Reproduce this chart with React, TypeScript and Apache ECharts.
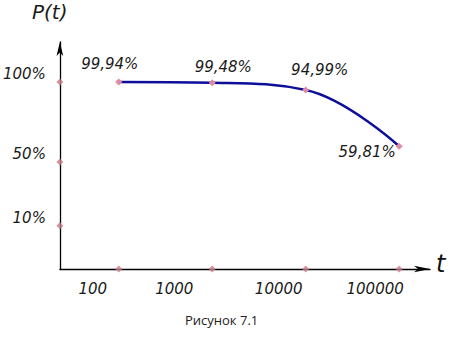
import React, { useEffect, useRef } from "react";
import * as echarts from "echarts";

const categories = ["100", "1000", "10000", "100000"];
const reliability = [99.94, 99.48, 94.99, 59.81];
const yTickValues = [100, 50, 10];
const yTickLabels = ["100%", "50%", "10%"];

const Y_MIN = -17;
const Y_MAX = 125;
const X_MIN = -0.63;
const X_MAX = 3.33;

export default function App() {
  const ref = useRef<HTMLDivElement>(null);
  useEffect(() => {
    if (!ref.current) return;
    const chart = echarts.init(ref.current, null, { renderer: "svg" });
    const gost = "'DejaVu Sans', 'Liberation Sans', sans-serif";
    const labelOffsets = [
      [-9, -2],
      [11, 0],
      [14, -4],
      [-32, 22],
    ];
    const xLabelPad = [52, 76, 54, 48];
    const markerColor = "#c97c8c";
    const textStyle = {
      fontFamily: gost,
      fontStyle: "italic",
      fontWeight: 200,
      fontSize: 15,
      color: "#1a1a1a",
    };
    const rich: Record<string, any> = {};
    xLabelPad.forEach((p, i) => {
      rich["c" + i] = { ...textStyle, padding: [0, p, 0, 0] };
    });
    chart.setOption({
      animation: false,
      backgroundColor: "#ffffff",
      grid: { left: 59, right: 40, top: 42, bottom: 75 },
      xAxis: {
        type: "value",
        min: X_MIN,
        max: X_MAX,
        splitLine: { show: false },
        axisTick: { show: false },
        axisLine: {
          show: true,
          onZero: false,
          symbol: ["none", "arrow"],
          symbolSize: [5, 16],
          lineStyle: { color: "#000", width: 1.3 },
        },
        axisLabel: {
          customValues: categories.map((_, i) => i),
          formatter: (v: number) => {
            const i = Math.round(v);
            return categories[i] ? `{c${i}|${categories[i]}}` : "";
          },
          rich,
          ...textStyle,
          margin: 12,
        },
      },
      yAxis: {
        type: "value",
        min: Y_MIN,
        max: Y_MAX,
        splitLine: { show: false },
        axisTick: { show: false },
        axisLine: {
          show: true,
          onZero: false,
          symbol: ["none", "arrow"],
          symbolSize: [5, 14],
          lineStyle: { color: "#000", width: 1.3 },
        },
        axisLabel: {
          customValues: yTickValues,
          formatter: (v: number) => yTickLabels[yTickValues.indexOf(v)] ?? "",
          ...textStyle,
          margin: 14,
          verticalAlign: "bottom",
        },
      },
      series: [
        {
          type: "line",
          data: reliability.map((v, i) => [i, v]),
          smooth: 0.4,
          symbol: "diamond",
          symbolSize: 7,
          itemStyle: { color: "#e08aa4" },
          lineStyle: { color: "#0e0e9a", width: 2.5 },
          label: {
            show: true,
            position: "top",
            formatter: (p: any) => String(p.value[1]).replace(".", ",") + "%",
            ...textStyle,
          },
          labelLayout: (params: any) => ({
            dx: labelOffsets[params.dataIndex][0],
            dy: labelOffsets[params.dataIndex][1],
          }),
          z: 3,
        },
        {
          type: "scatter",
          data: categories.map((_, i) => [i, Y_MIN]),
          symbol: "diamond",
          symbolSize: 7,
          itemStyle: { color: markerColor },
          clip: false,
          z: 4,
        },
        {
          type: "scatter",
          data: yTickValues.map((v) => [X_MIN, v]),
          symbol: "diamond",
          symbolSize: 7,
          itemStyle: { color: markerColor },
          clip: false,
          z: 4,
        },
      ],
      graphic: [
        {
          type: "text",
          left: 32,
          top: 2,
          style: {
            text: "P(t)",
            font: "italic 200 20px " + gost,
            fill: "#1a1a1a",
          },
        },
        {
          type: "text",
          left: 436,
          top: 252,
          style: {
            text: "t",
            font: "italic 24px " + gost,
            fill: "#111",
          },
        },
        {
          type: "text",
          left: 185,
          top: 313,
          style: {
            text: "Рисунок 7.1",
            font: "13px 'Open Sans', sans-serif",
            fill: "#222",
          },
        },
      ],
    });
    return () => chart.dispose();
  }, []);
  return (
    <div
      ref={ref}
      style={{ position: "fixed", left: 0, top: 0, width: 470, height: 344, background: "#fff" }}
    />
  );
}
